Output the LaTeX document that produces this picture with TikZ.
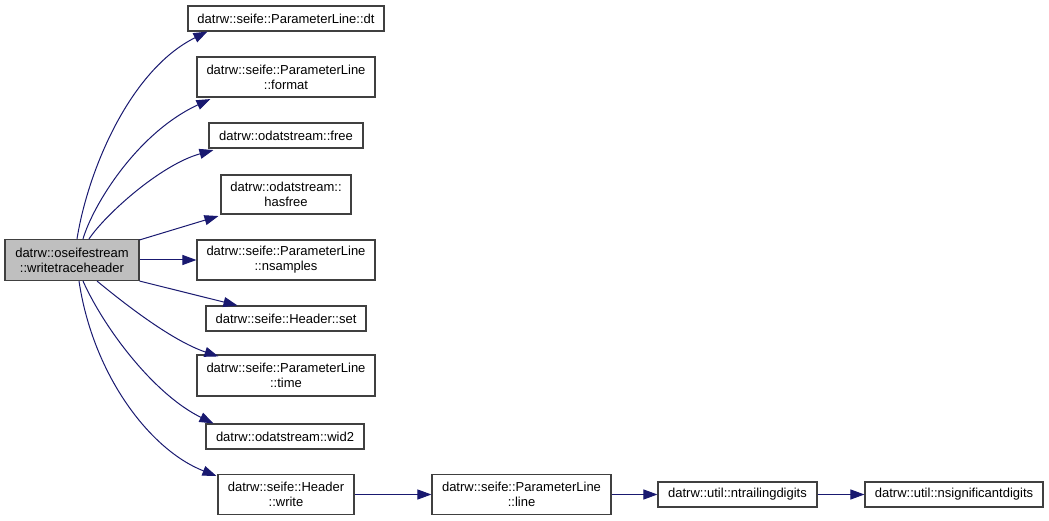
\documentclass[tikz,border=0pt]{standalone}
\usepackage{fontspec}
\setmainfont{Liberation Sans}
\usetikzlibrary{arrows.meta,calc}
\definecolor{edgeblue}{HTML}{191970}
\definecolor{rootgray}{HTML}{BFBFBF}
\begin{document}
\begin{tikzpicture}[x=1pt,y=-1pt,
  box/.style={draw=black!75,line width=1.1pt,rectangle,inner sep=0pt,align=center,
    font=\fontsize{13}{15}\selectfont,fill=white},
  edge/.style={draw=edgeblue,line width=1pt,-{Triangle[length=14pt,width=10pt]}}]
\useasboundingbox (0,0) rectangle (1049,521);
\node[box,fill=rootgray,minimum width=134,minimum height=41] (root) at (72,260) {datrw::oseifestream\\::writetraceheader};
\node[box,minimum width=196,minimum height=25] (dt) at (286,18.5) {datrw::seife::ParameterLine::dt};
\node[box,minimum width=178,minimum height=40] (format) at (286,77) {datrw::seife::ParameterLine\\::format};
\node[box,minimum width=154,minimum height=25] (free) at (286,135.5) {datrw::odatstream::free};
\node[box,minimum width=130,minimum height=39] (hasfree) at (286,194.5) {datrw::odatstream::\\hasfree};
\node[box,minimum width=178,minimum height=40] (nsamples) at (286,260) {datrw::seife::ParameterLine\\::nsamples};
\node[box,minimum width=160,minimum height=25] (set) at (286,318.5) {datrw::seife::Header::set};
\node[box,minimum width=178,minimum height=41] (time) at (286,375.5) {datrw::seife::ParameterLine\\::time};
\node[box,minimum width=158,minimum height=25] (wid2) at (285,436.5) {datrw::odatstream::wid2};
\node[box,minimum width=136,minimum height=40] (write) at (286,494.5) {datrw::seife::Header\\::write};
\node[box,minimum width=179,minimum height=40] (line) at (521.5,494.5) {datrw::seife::ParameterLine\\::line};
\node[box,minimum width=159,minimum height=25] (ntrail) at (737.5,494.5) {datrw::util::ntrailingdigits};
\node[box,minimum width=178,minimum height=25] (nsig) at (954,494.5) {datrw::util::nsignificantdigits};
% edges
\draw[edge] ($(root.north)+(5,0)$) .. controls (88,170) and (130,70) .. ($(dt.south west)+(20,0)$);
\draw[edge] ($(root.north)+(11,0)$) .. controls (93,205) and (137,133) .. ($(format.south west)+(14,1.5)$);
\draw[edge] ($(root.north)+(17,0)$) .. controls (105,215) and (160,165) .. ($(free.south west)+(5,1.5)$);
\draw[edge] ($(root.north east)+(0,1)$) -- ($(hasfree.south west)+(-2,1.5)$);
\draw[edge] (root.east) -- (nsamples.west);
\draw[edge] ($(root.south east)+(0,0)$) -- ($(set.north west)+(32,0)$);
\draw[edge] ($(root.south)+(25,0)$) .. controls (120,300) and (170,340) .. ($(time.north west)+(22,2)$);
\draw[edge] ($(root.south)+(11,0)$) .. controls (105,330) and (155,395) .. ($(wid2.north west)+(8,0)$);
\draw[edge] ($(root.south)+(7,0)$) .. controls (93,375) and (150,450) .. ($(write.north west)+(-1,2)$);
\draw[edge] (write.east) -- (line.west);
\draw[edge] (line.east) -- (ntrail.west);
\draw[edge] (ntrail.east) -- (nsig.west);
\end{tikzpicture}
\end{document}
